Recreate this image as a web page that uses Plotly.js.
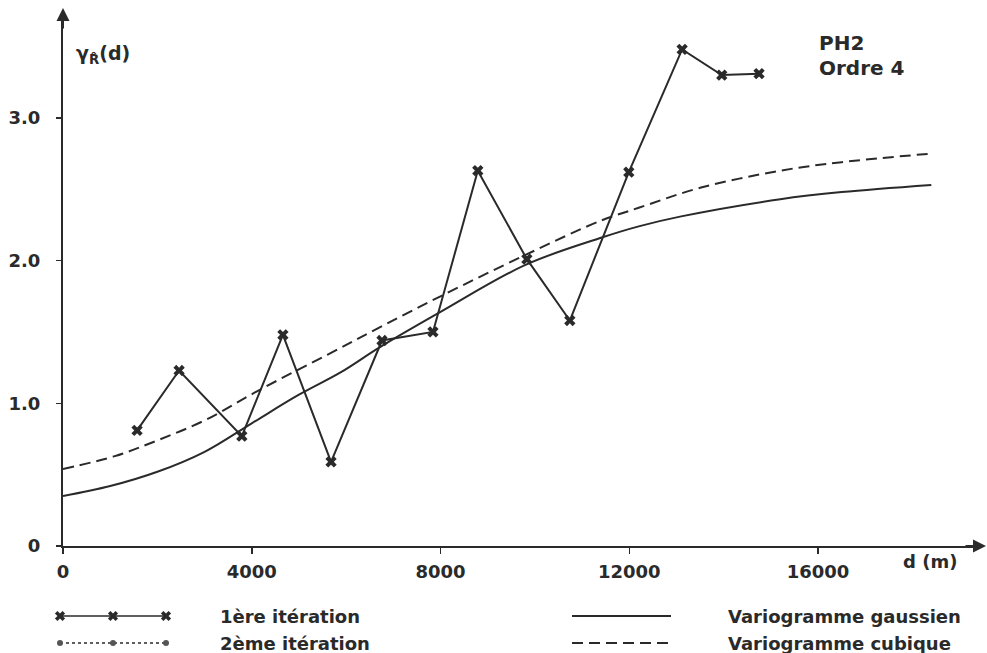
<!DOCTYPE html>
<html><head><meta charset="utf-8">
<script src="https://cdn.plot.ly/plotly-3.0.1.min.js"></script>
<style>html,body{margin:0;padding:0;background:#fff}#chart{width:987px;height:653px}</style>
</head><body><div id="chart"></div>
<script>
// ---- data ----
const iterDist  = [1570, 2460, 3790, 4660, 5680, 6760, 7840, 8790, 9830, 10740, 11990, 13120, 13960, 14750];
const iterGamma = [0.81, 1.23, 0.77, 1.48, 0.59, 1.44, 1.50, 2.63, 2.01, 1.58, 2.62, 3.48, 3.30, 3.31];
const gaussDist  = [0, 1000, 2000, 3000, 4000, 5000, 5900, 6700, 8000, 9800, 11400, 12200, 13100, 15200, 16500, 18400];
const gaussGamma = [0.35, 0.42, 0.52, 0.66, 0.86, 1.06, 1.22, 1.39, 1.64, 1.97, 2.16, 2.24, 2.31, 2.43, 2.48, 2.53];
const cubDist  = [0, 1100, 2000, 3000, 4200, 5600, 6700, 8000, 9800, 11400, 12200, 13500, 15200, 16500, 18400];
const cubGamma = [0.54, 0.63, 0.74, 0.88, 1.10, 1.34, 1.53, 1.75, 2.04, 2.28, 2.37, 2.51, 2.63, 2.69, 2.75];
const xTickVals = [0, 4000, 8000, 12000, 16000];
const xTickText = ['0', '4000', '8000', '12000', '16000'];
const yTickVals = [0, 1, 2, 3];
const yTickText = ['0', '1.0', '2.0', '3.0'];
const legendNames = ['1ère itération', '2ème itération', 'Variogramme gaussien', 'Variogramme cubique'];

// ---- layout helpers ----
const W = 987, H = 653;
const px = x => x / W, py = y => 1 - y / H;
const INK = '#2a2a2a';
const FONT = {family: 'DejaVu Sans, Liberation Sans, sans-serif', size: 18, color: INK, weight: 'bold'};

const traces = [
  {x: gaussDist, y: gaussGamma, mode: 'lines', line: {color: INK, width: 2, shape: 'spline', smoothing: 1}, hoverinfo: 'skip'},
  {x: cubDist, y: cubGamma, mode: 'lines', line: {color: INK, width: 2, shape: 'spline', smoothing: 1, dash: '11px,6px'}, hoverinfo: 'skip'},
  {x: iterDist, y: iterGamma, mode: 'lines+markers', line: {color: INK, width: 2},
   marker: {symbol: 'x', size: 10, color: INK, line: {width: 0}}}
];

// legend samples (decoration, drawn in a pixel-space overlay subplot)
const row1 = 616, row2 = 643;
const lx = [60, 113, 166];
traces.push({x: lx, y: lx.map(() => row1), xaxis: 'x2', yaxis: 'y2', mode: 'lines+markers',
  line: {color: INK, width: 1.5}, marker: {symbol: 'x', size: 9, color: INK}, hoverinfo: 'skip'});
traces.push({x: lx, y: lx.map(() => row2), xaxis: 'x2', yaxis: 'y2', mode: 'lines+markers',
  line: {color: INK, width: 1.5, dash: 'dot'}, marker: {symbol: 'circle', size: 6, color: '#555'}, hoverinfo: 'skip'});
traces.push({x: [572, 671], y: [row1, row1], xaxis: 'x2', yaxis: 'y2', mode: 'lines',
  line: {color: INK, width: 2}, hoverinfo: 'skip'});
traces.push({x: [572, 671], y: [row2, row2], xaxis: 'x2', yaxis: 'y2', mode: 'lines',
  line: {color: INK, width: 2, dash: '11px,6px'}, hoverinfo: 'skip'});

const ann = (text, x, y, extra) => Object.assign({text, xref: 'paper', yref: 'paper', x: px(x), y: py(y),
  showarrow: false, xanchor: 'left', yanchor: 'middle', font: FONT}, extra || {});

const layout = {
  width: W, height: H, margin: {l: 0, r: 0, t: 0, b: 0},
  paper_bgcolor: '#fff', plot_bgcolor: '#fff', showlegend: false, font: FONT,
  xaxis: {domain: [px(63), px(980)], range: [0, (980 - 63) / 0.04719], tickvals: xTickVals, ticktext: xTickText,
    showgrid: false, zeroline: false, showline: true, linecolor: INK, linewidth: 2,
    ticks: 'outside', ticklen: 6, tickwidth: 1.5, tickcolor: INK, tickfont: FONT, ticklabelstandoff: 2, fixedrange: true},
  yaxis: {domain: [py(546), py(12)], range: [0, (546 - 12) / 142.7], tickvals: yTickVals, ticktext: yTickText,
    showgrid: false, zeroline: false, showline: true, linecolor: INK, linewidth: 2,
    ticks: 'outside', ticklen: 5, tickwidth: 1.5, tickcolor: INK, tickfont: FONT, ticklabelstandoff: 12, fixedrange: true},
  xaxis2: {domain: [0, 1], range: [0, W], visible: false, anchor: 'y2', fixedrange: true},
  yaxis2: {domain: [0, py(560)], range: [H, 560], visible: false, anchor: 'x2', fixedrange: true},
  annotations: [
    ann('PH2', 817, 43, {font: Object.assign({}, FONT, {size: 20})}),
    ann('Ordre 4', 817, 68, {font: Object.assign({}, FONT, {size: 20})}),
    ann('γ<sub>R̂</sub>(d)', 74, 55, {font: Object.assign({}, FONT, {size: 19})}),
    ann('d (m)', 930, 561, {xanchor: 'center'}),
    ann(legendNames[0], 218, row1),
    ann(legendNames[1], 218, row2),
    ann(legendNames[2], 726, row1),
    ann(legendNames[3], 726, row2),
    {text: '', xref: 'paper', yref: 'paper', x: px(986), y: py(546), ax: -22, ay: 0, showarrow: true,
     arrowhead: 2, arrowsize: 1.3, arrowwidth: 2, arrowcolor: INK, standoff: 0},
    {text: '', xref: 'paper', yref: 'paper', x: px(63), y: py(8), ax: 0, ay: 22, showarrow: true,
     arrowhead: 2, arrowsize: 1.3, arrowwidth: 2, arrowcolor: INK, standoff: 0}
  ]
};

Plotly.newPlot('chart', traces, layout, {displayModeBar: false, staticPlot: true});
</script>
</body></html>
